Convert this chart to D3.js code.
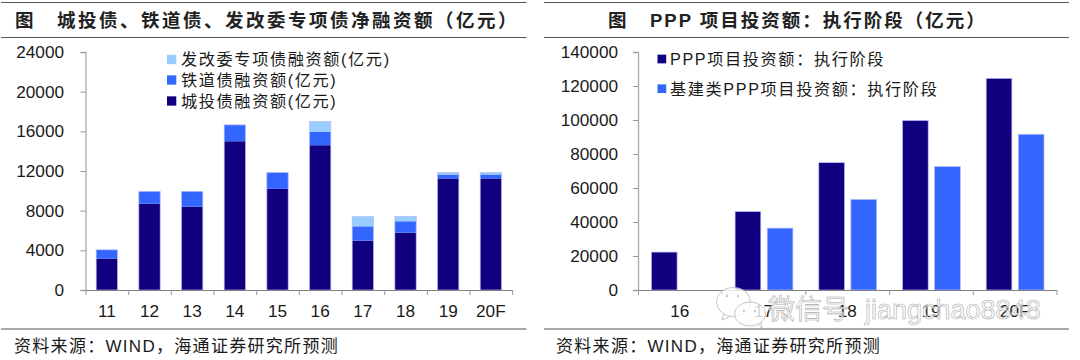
<!DOCTYPE html>
<html>
<head>
<meta charset="utf-8">
<script src="https://cdn.jsdelivr.net/npm/d3@7"></script>
<style>
html,body{margin:0;padding:0;background:#fff}
svg{display:block}
text{font-family:"Liberation Sans","Noto Sans CJK SC",sans-serif;fill:#1a1a1a}
</style>
</head>
<body>
<svg id="chart" width="1080" height="360"></svg>
<script>
var leftYears = ["11","12","13","14","15","16","17","18","19","20F"]
var urbanBonds = [3170,8700,8400,15000,10200,14600,4980,5780,11250,11250]
var railBonds = [880,1250,1550,1650,1650,1350,1440,1150,400,400]
var ndrcBonds = [0,0,0,0,0,1050,980,500,200,200]
var leftTicks = [0,4000,8000,12000,16000,20000,24000]

var rightYears = ["16","17","18","19","20F"]
var pppAll = [22300,46100,74900,99700,124500]
var pppInfra = [null,36400,53300,72600,91600]
var rightTicks = [0,20000,40000,60000,80000,100000,120000,140000]

var navy = "#10007f", blue = "#3366ff", pale = "#99ccff"
var barEdge = "#b4bcf5"

var svg = d3.select("#chart")

function frame(x0, x1, tuX, titleX, title, spacing, sourceX) {
	svg.selectAll(null)
		.data([2.5,37.5,329])
		.enter()
		.append("line")
		.attr("x1",x0).attr("x2",x1)
		.attr("y1",function(d){return d}).attr("y2",function(d){return d})
		.attr("stroke","#555").attr("stroke-width",1)
	svg.selectAll(null)
		.data([{x:tuX,t:"图"},{x:titleX,t:title}])
		.enter()
		.append("text")
		.attr("x",function(d){return d.x}).attr("y",27)
		.attr("font-size",18.5).attr("font-weight",700)
		.style("letter-spacing",spacing+"px").style("fill","#222")
		.text(function(d){return d.t})
	svg.append("text").attr("x",sourceX).attr("y",352)
		.attr("font-size",17).style("letter-spacing","1.3px")
		.text("资料来源：WIND，海通证券研究所预测")
}

function yAxis(x, scale, ticks, pad) {
	var g = svg.append("g").attr("transform","translate("+x+",0)")
		.call(d3.axisLeft(scale).tickValues(ticks).tickSize(5).tickPadding(pad).tickFormat(d3.format("d")))
	g.select("path").attr("stroke","#aaa").attr("stroke-width",1.3)
	g.selectAll("line").attr("stroke","#999")
	g.selectAll("text").attr("font-size",17.2).style("font-family","Liberation Sans")
}

function xAxis(y, scale) {
	var g = svg.append("g").attr("transform","translate(0,"+y+")")
		.call(d3.axisBottom(scale).tickSize(0).tickPadding(15))
	g.select("path").attr("stroke","#808080")
	g.selectAll("text").attr("font-size",17.2).style("font-family","Liberation Sans")
	// ticks sit between the categories, not on them
	d3.range(scale.domain().length+1).forEach(function(i){
		var tx = scale.range()[0] + i*scale.step() + 0.5
		g.append("line").attr("x1",tx).attr("x2",tx).attr("y1",0).attr("y2",5).attr("stroke","#999")
	})
}

function legend(items, x, ys, size, textX) {
	items.forEach(function(d,i){
		svg.append("rect").attr("x",x).attr("y",ys[i]-size/2).attr("width",size).attr("height",size).attr("fill",d.color)
		svg.append("text").attr("x",textX).attr("y",ys[i]+5.8).attr("font-size",16.2)
			.style("letter-spacing","1.6px").text(d.label)
	})
}

// left chart
frame(1,526.5,15,57,"城投债、铁道债、发改委专项债净融资额（亿元）",2.5,14)

var ly = d3.scaleLinear().domain([0,24000]).range([290,52])
var lxOuter = d3.scaleBand().domain(leftYears).range([85.5,512.2])
var lx = lxOuter.copy().paddingInner(0.5).paddingOuter(0.25)

var stackData = leftYears.map(function(d,i){
	return {year:d, urban:urbanBonds[i], rail:railBonds[i], ndrc:ndrcBonds[i]}
})
var stacked = d3.stack().keys(["urban","rail","ndrc"])(stackData)
var stackFill = d3.scaleOrdinal().domain(["urban","rail","ndrc"]).range([navy,blue,pale])

svg.append("g").selectAll("g")
	.data(stacked)
	.enter()
	.append("g")
	.attr("fill",function(d){return stackFill(d.key)})
	.selectAll("rect")
	.data(function(d){return d})
	.enter()
	.append("rect")
	.attr("x",function(d){return lx(d.data.year)})
	.attr("width",lx.bandwidth())
	.attr("y",function(d){return ly(d[1])})
	.attr("height",function(d){return ly(d[0])-ly(d[1])})

// thin pale edge round each whole stack
svg.append("g").selectAll("rect")
	.data(stacked[2])
	.enter()
	.append("rect")
	.attr("x",function(d){return lx(d.data.year)})
	.attr("width",lx.bandwidth())
	.attr("y",function(d){return ly(d[1])})
	.attr("height",function(d){return ly(0)-ly(d[1])})
	.attr("fill","none").attr("stroke",barEdge).attr("stroke-width",0.7)

yAxis(85.5,ly,leftTicks,16.5)
xAxis(290,lxOuter)

legend([
	{color:pale,label:"发改委专项债融资额(亿元)"},
	{color:blue,label:"铁道债融资额(亿元)"},
	{color:navy,label:"城投债融资额(亿元)"}
],167,[59.5,80,101],9.3,181)

// right chart
frame(544,1069,608,650,"PPP 项目投资额：执行阶段（亿元）",2,556)

var ry = d3.scaleLinear().domain([0,140000]).range([290,52])
var rx = d3.scaleBand().domain(rightYears).range([638,1056.5])
var rx1 = d3.scaleBand().domain([0,1]).range([13.4,71.2]).paddingInner(0.2)

var rg = svg.append("g").selectAll("g")
	.data(rightYears)
	.enter()
	.append("g")
	.attr("transform",function(d){return "translate("+rx(d)+",0)"})

rg.selectAll("rect")
	.data(function(d,i){return [pppAll[i],pppInfra[i]]})
	.enter()
	.filter(function(d){return d!==null})
	.append("rect")
	.attr("x",function(d,i){return rx1(i)})
	.attr("width",rx1.bandwidth())
	.attr("y",function(d){return ry(d)})
	.attr("height",function(d){return ry(0)-ry(d)})
	.attr("fill",function(d,i){return i==0?navy:blue})
	.attr("stroke",barEdge).attr("stroke-width",0.7)

yAxis(638,ry,rightTicks,15)
xAxis(290,rx)

legend([
	{color:navy,label:"PPP项目投资额：执行阶段"},
	{color:blue,label:"基建类PPP项目投资额：执行阶段"}
],657.5,[59,88.7],8.7,670)

// wechat watermark laid over the axis labels
var mark = svg.append("g").attr("fill","#fff").attr("fill-opacity",0.8).attr("stroke","#b5b5b5").attr("stroke-width",0.8)
mark.append("path").attr("d","M724 312 L722 320 L731 316")
mark.append("ellipse").attr("cx",733.5).attr("cy",302).attr("rx",17).attr("ry",14.5)
mark.append("path").attr("d","M755 322 L762 328 L760 318")
mark.append("ellipse").attr("cx",750).attr("cy",314).attr("rx",15.5).attr("ry",12)
mark.selectAll(null)
	.data([[727,296],[738,296],[744,311],[755,311]])
	.enter()
	.append("circle")
	.attr("cx",function(d){return d[0]}).attr("cy",function(d){return d[1]}).attr("r",1.2)
	.attr("fill","#bbb").attr("stroke","none")

svg.selectAll(null)
	.data([{x:768,t:"微信号"},{x:865,t:"jiangchao8848"}])
	.enter()
	.append("text")
	.attr("x",function(d){return d.x}).attr("y",319)
	.attr("font-size",27)
	.style("fill","#fff").style("fill-opacity",0.65)
	.style("stroke","#aaa").style("stroke-width",0.6)
	.text(function(d){return d.t})
</script>
</body>
</html>
